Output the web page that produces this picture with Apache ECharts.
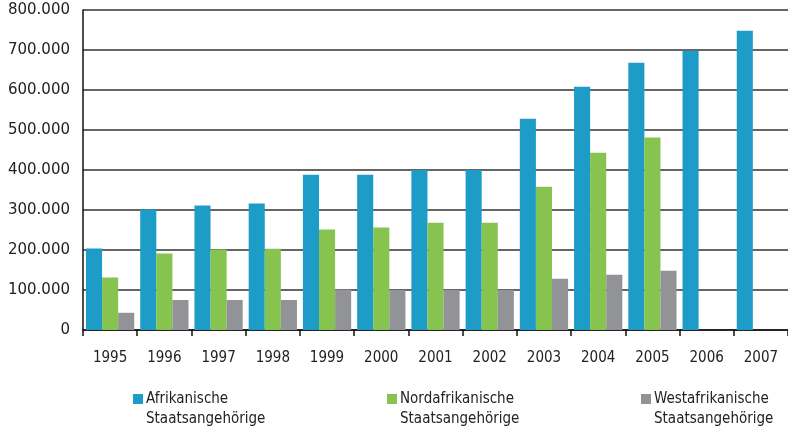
<!DOCTYPE html>
<html>
<head>
<meta charset="utf-8">
<script src="https://cdn.jsdelivr.net/npm/echarts@6/dist/echarts.min.js"></script>
<style>
  html, body { margin: 0; padding: 0; background: #fff; }
  #chart { width: 788px; height: 428px; }
</style>
</head>
<body>
<div id="chart"></div>
<script>
// Jahre auf der x-Achse
const years = ['1995', '1996', '1997', '1998', '1999', '2000', '2001', '2002', '2003', '2004', '2005', '2006', '2007']
// Werte je Gruppe
const afrikanisch = [204000, 301000, 311000, 316000, 388000, 388000, 400000, 400000, 528000, 608000, 668000, 698000, 748000]
const nordafrikanisch = [131000, 191000, 201000, 203000, 251000, 256000, 268000, 268000, 358000, 443000, 481000, null, null]
const westafrikanisch = [43000, 75000, 75000, 75000, 101000, 100000, 100000, 100000, 128000, 138000, 148000, null, null]
const seriesNames = ['Afrikanische\nStaatsangehörige', 'Nordafrikanische\nStaatsangehörige', 'Westafrikanische\nStaatsangehörige']
const colors = ['#1E9CC8', '#86C34F', '#929397']

const chart = echarts.init(document.getElementById('chart'))

// Legendensymbol oben ausrichten (Quadrat in der ersten Zeile)
const legendIcon = 'path://M0,0H10V10H0Z M0,29.9H0.1V30H0Z'

function makeLegend (i, left) {
  return {
    data: [seriesNames[i]],
    left: left,
    top: 389,
    padding: 0,
    icon: legendIcon,
    itemWidth: 10,
    itemHeight: 30,
    itemGap: 0,
    selectedMode: false,
    textStyle: {
      fontFamily: 'Liberation Sans Narrow, DejaVu Sans Condensed, sans-serif',
      fontSize: 15,
      lineHeight: 20,
      color: '#222',
      padding: [0, 0, 0, -2]
    }
  }
}

const option = {
  animation: false,
  color: colors,
  grid: {
    left: 83,
    right: 0,
    top: 10,
    bottom: 98
  },
  legend: [makeLegend(0, 133), makeLegend(1, 387), makeLegend(2, 641)],
  xAxis: {
    type: 'category',
    data: years,
    boundaryGap: true,
    axisLine: { lineStyle: { color: '#111', width: 1.5 } },
    axisTick: { show: true, length: 6, lineStyle: { color: '#111', width: 1.5 } },
    axisLabel: {
      margin: 21,
      color: '#222',
      fontSize: 15,
      fontFamily: 'Liberation Sans Narrow, DejaVu Sans Condensed, sans-serif'
    }
  },
  yAxis: {
    type: 'value',
    min: 0,
    max: 800000,
    interval: 100000,
    axisLine: { show: true, lineStyle: { color: '#111', width: 1.5 } },
    axisTick: { show: false },
    splitLine: { lineStyle: { color: '#333', width: 1.5 } },
    axisLabel: {
      margin: 13,
      color: '#222',
      fontSize: 15,
      padding: [6, 0, 0, 0],
      fontFamily: 'DejaVu Sans, sans-serif',
      formatter: (v) => String(v).replace(/\B(?=(\d{3})+(?!\d))/g, '.')
    }
  },
  series: [
    { name: seriesNames[0], type: 'bar', data: afrikanisch, barGap: 0, barCategoryGap: '11%' },
    { name: seriesNames[1], type: 'bar', data: nordafrikanisch, barGap: 0, barCategoryGap: '11%' },
    { name: seriesNames[2], type: 'bar', data: westafrikanisch, barGap: 0, barCategoryGap: '11%' }
  ]
}
chart.setOption(option)
</script>
</body>
</html>
